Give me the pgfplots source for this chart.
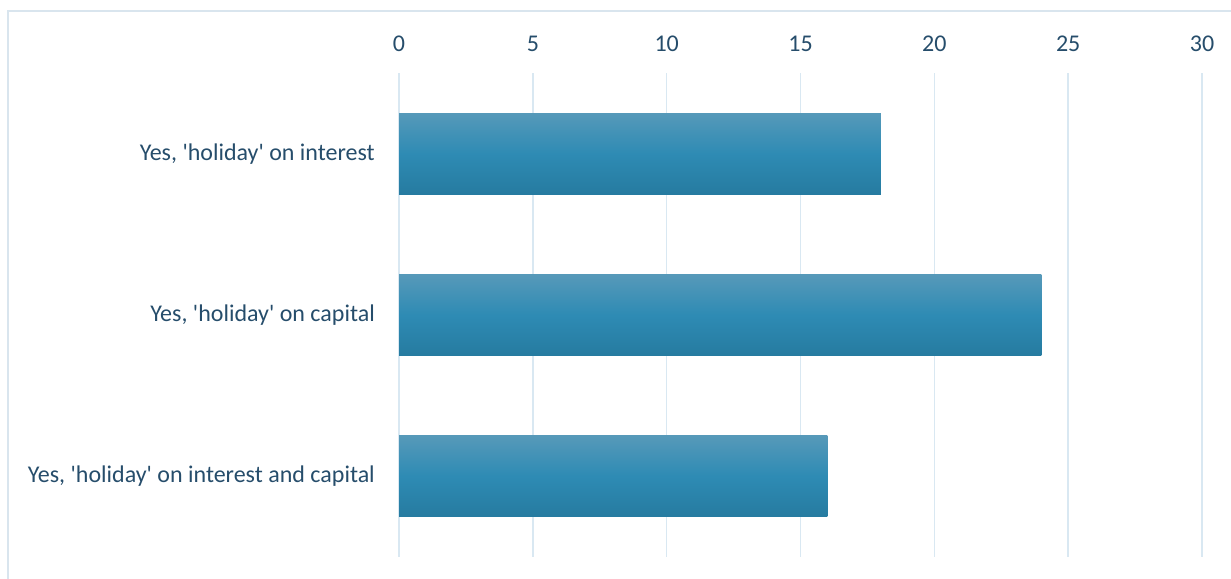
\documentclass[border=0pt]{standalone}
\usepackage{pgfplots}
\pgfplotsset{compat=1.18}
\usepackage{fontspec}
\setmainfont{Carlito}[Ligatures=TeXOff]
\definecolor{txt}{HTML}{264D6B}
\definecolor{gridc}{HTML}{D9E8F2}
\definecolor{framec}{HTML}{D9E5EE}
\definecolor{btop}{HTML}{5699B9}
\definecolor{bmid}{HTML}{2E8BB4}
\definecolor{bbot}{HTML}{267BA0}
\begin{document}
\begin{tikzpicture}
\path[use as bounding box] (0,0) rectangle (1231bp,-579bp);
\draw[framec, line width=1.5bp] (8bp,-590bp) -- (8bp,-11bp) -- (1240bp,-11bp);
\begin{axis}[
  at={(399bp,-557bp)}, anchor=south west,
  scale only axis, width=803bp, height=484bp,
  xmin=0, xmax=30, xtick={0,5,...,30},
  ymin=-0.5, ymax=2.5, y dir=reverse,
  ytick={0,1,2},
  yticklabels={{Yes, 'holiday' on interest},{Yes, 'holiday' on capital},{Yes, 'holiday' on interest and capital}},
  xticklabel pos=upper,
  axis line style={draw=none},
  major tick length=0pt,
  xmajorgrids, ymajorgrids=false, major grid style={draw=gridc, line width=1.5bp},
  /pgf/number format/assume math mode=true,
  tick label style={font=\fontsize{24bp}{28bp}\selectfont, text=txt, inner sep=0pt},
  xticklabel style={anchor=base},
  xticklabel shift=22bp,
  yticklabel shift=24bp,
  bar width=81bp,
  every axis plot/.append style={xbar, bar shift=0pt, draw=none, mark=none, top color=btop, bottom color=bbot, middle color=bmid},
]
\addplot+[mark=none] coordinates {(18,0)};
\addplot+[mark=none] coordinates {(24,1)};
\addplot+[mark=none] coordinates {(16,2)};
\end{axis}
\end{tikzpicture}
\end{document}
